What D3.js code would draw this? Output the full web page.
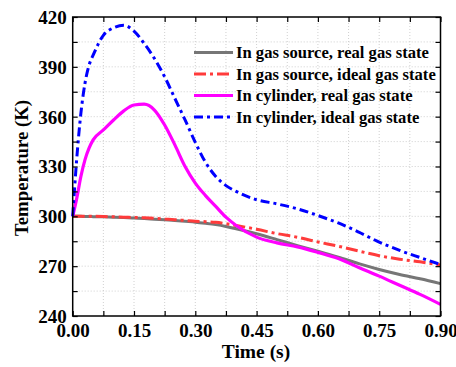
<!DOCTYPE html>
<html>
<head>
<meta charset="utf-8">
<script src="https://cdnjs.cloudflare.com/ajax/libs/d3/7.8.5/d3.min.js"></script>
<style>
  html, body { margin: 0; padding: 0; background: #fff; }
  svg { display: block; }
  text { font-family: "Liberation Serif", "Times New Roman", serif; font-weight: bold; fill: #000; }
</style>
</head>
<body>
<svg id="chart" width="456" height="367"></svg>
<script>
// Time samples (s)
const time = [0, 0.01, 0.02, 0.03, 0.04, 0.05, 0.075, 0.1, 0.125, 0.15, 0.175, 0.2, 0.225, 0.25, 0.275, 0.3, 0.325, 0.35, 0.375, 0.4, 0.45, 0.5, 0.55, 0.6, 0.65, 0.7, 0.75, 0.8, 0.85, 0.9];

// Temperature (K) for each case
const sourceReal = [300, 300, 300, 299.9, 299.9, 299.8, 299.7, 299.5, 299.3, 299.0, 298.7, 298.3, 297.9, 297.5, 297.0, 296.5, 295.8, 295.0, 293.9, 292.5, 289.5, 286.0, 282.4, 279.0, 275.4, 271.5, 268.0, 265.0, 262.4, 259.5];
const sourceIdeal = [300, 300, 300, 300, 300, 300, 299.9, 299.7, 299.5, 299.3, 299.1, 298.8, 298.4, 298.0, 297.5, 297.0, 296.8, 296.4, 295.6, 294.5, 292.2, 289.6, 287.4, 284.6, 282.0, 279.1, 276.3, 274.2, 272.6, 270.7];
const cylinderReal = [300, 311, 324, 334, 341, 346, 352, 358, 363.5, 367, 367.5, 364, 355, 343, 330, 320, 312.5, 306, 299.5, 294.5, 287.5, 284.0, 281.6, 278.3, 274.6, 269.2, 264.0, 258.5, 253.0, 247.0];
const cylinderIdeal = [300, 335, 362, 380, 391, 397, 409, 413.5, 415, 411.5, 404, 395, 384, 371, 358, 344.5, 332.5, 324, 318.5, 315, 310, 307.5, 304.5, 300.5, 296, 290.5, 284.5, 279.5, 275.2, 271];

const seriesNames = [
  "In gas source, real gas state",
  "In gas source, ideal gas state",
  "In cylinder, real gas state",
  "In cylinder, ideal gas state"
];
const seriesValues = [sourceReal, sourceIdeal, cylinderReal, cylinderIdeal];
const seriesColors = ["#767676", "#ff3b3b", "#ff00ff", "#0000ff"];
const seriesDash = [null, "12,4,3,4", null, "9,4,3,4"];
const seriesWidth = [3, 3, 3.2, 3];

const xTicks = [0, 0.15, 0.30, 0.45, 0.60, 0.75, 0.90];
const yTicks = [240, 270, 300, 330, 360, 390, 420];
const xMinor = d3.range(0, 0.9001, 0.075);
const yMinor = d3.range(240, 420.01, 15);

const svg = d3.select("#chart");
const L = 72.7, R = 440.5, T = 17, B = 316;

const x = d3.scaleLinear().domain([0, 0.9]).range([L, R]);
const y = d3.scaleLinear().domain([240, 420]).range([B, T]);

// dotted grid on major and minor positions
const grid = svg.append("g").attr("stroke", "#c4c4c4").attr("stroke-width", 0.8).attr("stroke-dasharray", "1,2");
xMinor.filter(v => v > 0.001 && v < 0.899).forEach(v => {
  grid.append("line").attr("x1", x(v)).attr("x2", x(v)).attr("y1", T).attr("y2", B);
});
yMinor.filter(v => v > 240.1 && v < 419.9).forEach(v => {
  grid.append("line").attr("y1", y(v)).attr("y2", y(v)).attr("x1", L).attr("x2", R);
});

// curves
const line = d3.line()
  .x((d, i) => x(time[i]))
  .y(d => y(d))
  .curve(d3.curveMonotoneX);

const plot = svg.append("g");
seriesValues.forEach((vals, k) => {
  plot.append("path")
    .datum(vals)
    .attr("d", line)
    .attr("fill", "none")
    .attr("stroke", seriesColors[k])
    .attr("stroke-width", seriesWidth[k])
    .attr("stroke-dasharray", seriesDash[k])
    .attr("stroke-linejoin", "round");
});

// axes with inward ticks on all four sides
function styleAxis(g) {
  g.select(".domain").remove();
  g.selectAll("line").attr("stroke", "#000").attr("stroke-width", 1.2);
}
svg.append("g").attr("transform", `translate(0,${B})`)
  .call(d3.axisBottom(x).tickValues(xMinor).tickSize(-5).tickFormat(""))
  .call(styleAxis);
svg.append("g").attr("transform", `translate(0,${T})`)
  .call(d3.axisTop(x).tickValues(xMinor).tickSize(-5).tickFormat(""))
  .call(styleAxis);
svg.append("g").attr("transform", `translate(${L},0)`)
  .call(d3.axisLeft(y).tickValues(yMinor).tickSize(-5).tickFormat(""))
  .call(styleAxis);
svg.append("g").attr("transform", `translate(${R},0)`)
  .call(d3.axisRight(y).tickValues(yMinor).tickSize(-5).tickFormat(""))
  .call(styleAxis);

// tick labels
const bottomLabels = svg.append("g")
  .attr("transform", `translate(0,${B})`)
  .call(d3.axisBottom(x).tickValues(xTicks).tickSize(0).tickPadding(21).tickFormat(d3.format(".2f")));
bottomLabels.select(".domain").remove();
bottomLabels.selectAll("text").attr("font-size", 19).attr("dy", 0)
  .style("font-family", "'Liberation Serif', serif").style("font-weight", "bold").attr("fill", "#000");

const leftLabels = svg.append("g")
  .attr("transform", `translate(${L},0)`)
  .call(d3.axisLeft(y).tickValues(yTicks).tickSize(0).tickPadding(6).tickFormat(d3.format("d")));
leftLabels.select(".domain").remove();
leftLabels.selectAll("text").attr("font-size", 19).attr("dy", "0.34em")
  .style("font-family", "'Liberation Serif', serif").style("font-weight", "bold").attr("fill", "#000");

// frame
svg.append("rect").attr("x", L).attr("y", T).attr("width", R - L).attr("height", B - T)
  .attr("fill", "none").attr("stroke", "#000").attr("stroke-width", 1.5);

// axis titles
svg.append("text").attr("x", 256).attr("y", 358).attr("text-anchor", "middle")
  .attr("font-size", 19.5).text("Time (s)");
svg.append("text").attr("transform", `translate(28,168) rotate(-90)`)
  .attr("text-anchor", "middle").attr("font-size", 18.8).text("Temperature (K)");

// legend
const legendY = [52.5, 74, 95.5, 117];
const legend = svg.append("g");
seriesNames.forEach((name, k) => {
  legend.append("line")
    .attr("x1", 194).attr("x2", 233)
    .attr("y1", legendY[k]).attr("y2", legendY[k])
    .attr("stroke", seriesColors[k]).attr("stroke-width", seriesWidth[k])
    .attr("stroke-dasharray", seriesDash[k]);
  legend.append("text").attr("x", 236).attr("y", legendY[k]).attr("dy", "0.34em")
    .attr("font-size", 16.6).text(name);
});
</script>
</body>
</html>
